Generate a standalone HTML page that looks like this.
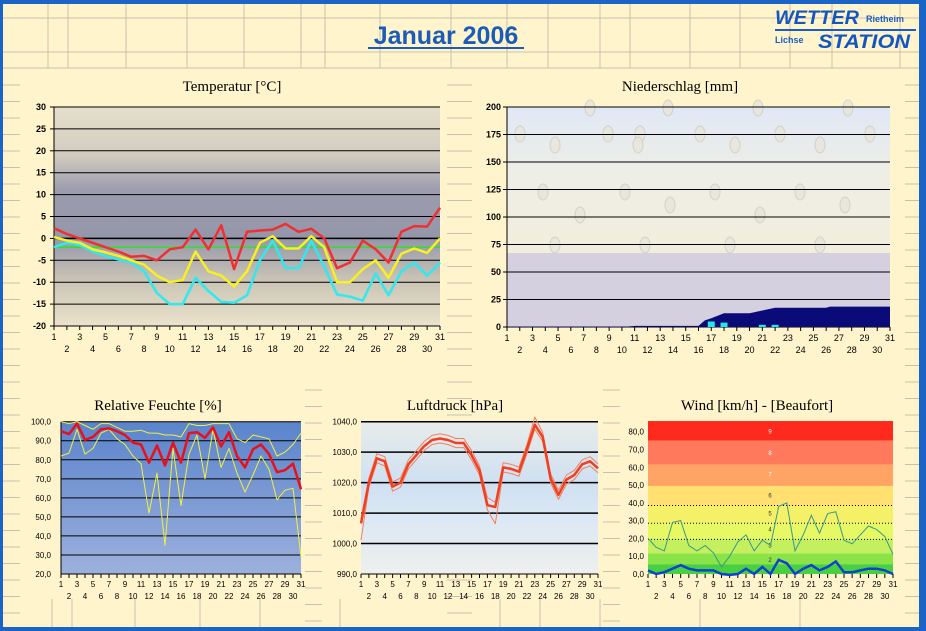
<!DOCTYPE html>
<html><head><meta charset="utf-8"><style>
body{margin:0;width:926px;height:631px;overflow:hidden;background:#fff4cc}
svg{display:block}
text{font-family:"Liberation Sans",sans-serif}
.t{font-family:"Liberation Serif",serif;font-size:15px;text-anchor:middle}
.ax{font-size:9px;font-weight:bold;text-anchor:end}
.xl{font-size:9px;text-anchor:middle}
.sx{font-size:8px;text-anchor:middle;font-family:"Liberation Sans Narrow","Liberation Sans",sans-serif}
.sy{font-size:8px;text-anchor:end;font-family:"Liberation Sans Narrow","Liberation Sans",sans-serif}
</style></head><body>
<svg id="s" width="926" height="631" xmlns="http://www.w3.org/2000/svg">
<defs>
<linearGradient id="gt" x1="0" y1="0" x2="0" y2="1">
<stop offset="0" stop-color="#e6dfcc"/><stop offset="0.22" stop-color="#d2ccc0"/><stop offset="0.38" stop-color="#9c9cae"/><stop offset="0.6" stop-color="#9496aa"/><stop offset="0.78" stop-color="#c8c2b4"/><stop offset="1" stop-color="#ebe3cc"/></linearGradient>
<linearGradient id="gp" x1="0" y1="0" x2="0" y2="1">
<stop offset="0" stop-color="#e0e8f6"/><stop offset="0.3" stop-color="#eeeee6"/><stop offset="0.67" stop-color="#f2eedc"/></linearGradient>
<linearGradient id="gh" x1="0" y1="0" x2="0" y2="1">
<stop offset="0" stop-color="#5a84cc"/><stop offset="0.5" stop-color="#7c9ad4"/><stop offset="1" stop-color="#9cb0dc"/></linearGradient>
<linearGradient id="gl" x1="0" y1="0" x2="0" y2="1">
<stop offset="0" stop-color="#e8ecea"/><stop offset="0.4" stop-color="#cfe0f2"/><stop offset="0.65" stop-color="#dce8f4"/><stop offset="1" stop-color="#eef0ec"/></linearGradient>
</defs>
<g id="grid" stroke="#c8c0b0" stroke-width="1"></g>
<rect x="0" y="0" width="926" height="4" fill="#1a64c8"/>
<rect x="0" y="0" width="3" height="631" fill="#1a64c8"/>
<rect x="919" y="0" width="7" height="631" fill="#1a64c8"/>
<rect x="0" y="627" width="926" height="4" fill="#1a64c8"/>
<text x="446" y="44" font-size="25" font-weight="bold" fill="#1a5cb8" text-anchor="middle">Januar 2006</text>
<line x1="368" y1="48" x2="524" y2="48" stroke="#1a5cb8" stroke-width="2"/>
<text x="775" y="24" font-size="19" font-weight="bold" font-style="italic" fill="#1456c0" textLength="84" lengthAdjust="spacingAndGlyphs">WETTER</text>
<text x="866" y="22" font-size="9" font-weight="bold" font-family="Liberation Serif" fill="#1a5cc8">Rietheim</text>
<line x1="775" y1="30" x2="916" y2="30" stroke="#1a5cc8" stroke-width="2"/>
<text x="775" y="43" font-size="9" font-weight="bold" font-family="Liberation Serif" fill="#1a5cc8">Lichse</text>
<text x="818" y="48" font-size="19" font-weight="bold" font-style="italic" fill="#1456c0" textLength="92" lengthAdjust="spacingAndGlyphs">STATION</text>
<g id="c"></g>
</svg>
<script>
var NS="http://www.w3.org/2000/svg",c=document.getElementById('c'),g=document.getElementById('grid');
function el(t,a,p,txt){if(p!==undefined&&p!==null&&typeof p!=='object'){txt=p;p=null;}var e=document.createElementNS(NS,t);for(var k in a)e.setAttribute(k,a[k]);if(txt!==undefined)e.textContent=txt;(p||c).appendChild(e);return e;}
[18,52,68].forEach(function(y){el('line',{x1:3,y1:y,x2:919,y2:y},g)});
[48,68,126,187,244,301,325,380,451,507,548,600,630,690,740,790,832,900].forEach(function(x){el('line',{x1:x,y1:4,x2:x,y2:68},g)});
for(var y=85;y<627;y+=16.5){el('line',{x1:3,y1:y,x2:20,y2:y},g);el('line',{x1:447,y1:y,x2:472,y2:y},g);el('line',{x1:905,y1:y,x2:919,y2:y},g);}
for(var y=390;y<627;y+=16.5){el('line',{x1:305,y1:y,x2:322,y2:y},g);el('line',{x1:603,y1:y,x2:620,y2:y},g);}
[52,72,135,200,260,340,500,540,600,700,800].forEach(function(x){el('line',{x1:x,y1:599,x2:x,y2:627},g)});
function line(x0,x1,y0,y1,v0,v1,data,col,w){var pts=data.map(function(v,i){return (x0+i*(x1-x0)/(data.length-1)).toFixed(1)+','+(y0+(v0-v)*(y1-y0)/(v0-v1)).toFixed(1)}).join(' ');el('polyline',{points:pts,fill:'none',stroke:col,'stroke-width':w,'stroke-linejoin':'round'});}
function xlabels(x0,x1,yb,cls,dy){for(var d=1;d<=31;d++){var x=x0+(d-1)*(x1-x0)/30;el('line',{x1:x,y1:yb,x2:x,y2:yb+4,stroke:'#000'});el('text',{x:x,y:yb+(d%2?14:26)+(dy||0),'class':cls},String(d));}}
var X0=54,X1=440,Y0=107,Y1=326;
el('text',{x:232,y:91,'class':'t'},'Temperatur [°C]');
el('rect',{x:X0,y:Y0,width:X1-X0,height:Y1-Y0,fill:'url(#gt)'});
for(var v=30;v>=-20;v-=5){var y=Y0+(30-v)*(Y1-Y0)/50;el('line',{x1:X0,y1:y,x2:X1,y2:y,stroke:'#000','stroke-width':v==0?1.5:1});el('line',{x1:X0-4,y1:y,x2:X0,y2:y,stroke:'#000'});el('text',{x:X0-8,y:y+3,'class':'ax'},String(v));}
el('line',{x1:X0,y1:Y0,x2:X0,y2:Y1,stroke:'#000'});
xlabels(X0,X1,Y1,'xl');
line(X0,X1,Y0,Y1,30,-20,Array(31).fill(-2),'#30e030',1.5);
line(X0,X1,Y0,Y1,30,-20,[-2,-1,-1.5,-3,-4,-4.8,-5.5,-7.5,-12.5,-15,-15,-9,-12,-14.5,-14.7,-13,-5,-0.5,-6.8,-6.8,-0.5,-6.5,-12.8,-13.3,-14.2,-8,-13,-7.5,-5.5,-8.5,-5.5],'#30e8f0',2.5);
line(X0,X1,Y0,Y1,30,-20,[0.3,-0.5,-1,-2.5,-3.2,-4,-5,-6,-8.5,-10,-9.5,-3,-7.5,-8.5,-11,-7.5,-1,0.5,-2.3,-2.3,0.5,-2,-10,-10,-7,-5,-9,-3.5,-2.3,-3.3,0],'#f8f020',2.5);
line(X0,X1,Y0,Y1,30,-20,[2.3,1,0,-1,-2,-3,-4.2,-4,-5,-2.5,-2,2,-2.5,3,-7,1.5,1.8,2,3.3,1.5,2.2,0,-6.8,-5.5,-0.5,-2.5,-5.5,1.5,2.8,2.7,7],'#f03030',2.5);
X0=507;X1=890;Y0=107;Y1=327;
el('text',{x:680,y:91,'class':'t'},'Niederschlag [mm]');
el('rect',{x:X0,y:Y0,width:X1-X0,height:Y1-Y0,fill:'url(#gp)'});
el('rect',{x:X0,y:253,width:X1-X0,height:Y1-253,fill:'#d4d0e0'});
var drops=[[520,134],[590,108],[608,134],[640,134],[668,108],[700,134],[758,108],[780,134],[848,108],[870,134],[555,145],[638,145],[735,145],[820,145],[543,192],[580,215],[625,192],[670,205],[715,192],[760,215],[800,192],[845,205],[555,245],[645,245],[730,245],[820,245]];
drops.forEach(function(d){el('ellipse',{cx:d[0],cy:d[1],rx:5,ry:8,fill:'#e8e6dc',stroke:'#cfcbbd','stroke-width':1,opacity:0.8})});
for(var v=200;v>=0;v-=25){var y=Y0+(200-v)*(Y1-Y0)/200;el('line',{x1:X0,y1:y,x2:X1,y2:y,stroke:'#000'});el('line',{x1:X0-4,y1:y,x2:X0,y2:y,stroke:'#000'});el('text',{x:X0-6,y:y+3,'class':'ax'},String(v));}
el('line',{x1:X0,y1:Y0,x2:X0,y2:Y1,stroke:'#000'});
var dx=(X1-X0)/30;function px(d){return X0+(d-1)*dx}function py(v){return Y1-v*1.1}
el('polygon',{points:[px(1),py(0),px(1),py(0.5),px(10.5),py(0.5),px(11),py(1),px(16),py(1),px(16.5),py(6),px(17),py(8),px(18),py(12.5),px(20),py(12.5),px(21),py(15),px(22),py(17.5),px(26),py(17.5),px(26.3),py(18.5),px(31),py(18.5),px(31),py(0)].join(' '),fill:'#0a0a78'});
[[17,5],[18,4],[21,2],[22,2]].forEach(function(b){el('rect',{x:px(b[0])-3.5,y:py(b[1]),width:7,height:b[1]*1.1,fill:'#20e8f0'})});
xlabels(X0,X1,Y1,'xl');
X0=61;X1=301;Y0=421.7;Y1=574;
el('text',{x:158,y:410,'class':'t','font-size':'14'},'Relative Feuchte [%]');
el('rect',{x:X0,y:Y0,width:X1-X0,height:Y1-Y0,fill:'url(#gh)'});
for(var v=100;v>=20;v-=10){var y=Y0+(100-v)*(Y1-Y0)/80;el('line',{x1:X0,y1:y,x2:X1,y2:y,stroke:'#000'});el('text',{x:X0-10,y:y+3,'class':'sy'},v+',0');}
el('line',{x1:X0,y1:Y0,x2:X0,y2:Y1,stroke:'#000'});
xlabels(X0,X1,Y1,'sx',-1);
line(X0,X1,Y0,Y1,100,20,[100,99,100,98,96,99,99,97,95,95,95.5,94,94,93,93,92,99,98,98,99,99,99,91,89,93,92,91,82,84,88,94],'#f0f040',1);
line(X0,X1,Y0,Y1,100,20,[82,83.5,96,83,86,94,96,91,88,82,78,52,73,35,86,56,83,93,70,96,76,86,73,63,72,82,75,59,64,65,29],'#f0f040',1);
line(X0,X1,Y0,Y1,100,20,[95,93.5,99,90.5,92,96,96.5,95,93,89,88,78.5,87.5,77,89,78.5,94,94.5,91.5,97,87,94.5,82,76,85.5,88,83,73.5,74.5,78,64.5],'#e8101a',2.5);
X0=361;X1=598;
el('text',{x:455,y:410,'class':'t','font-size':'14'},'Luftdruck [hPa]');
el('rect',{x:X0,y:Y0,width:X1-X0,height:Y1-Y0,fill:'url(#gl)'});
for(var v=1040;v>=990;v-=10){var y=Y0+(1040-v)*(Y1-Y0)/50;el('line',{x1:X0,y1:y,x2:X1,y2:y,stroke:'#000','stroke-width':v==990?1:1.5});el('text',{x:X0-4,y:y+3,'class':'sy'},v+',0');}
xlabels(X0,X1,Y1,'sx',-1);
var pr=[1006.6,1020,1028,1027,1018.7,1020,1026,1029,1032,1034,1034.5,1034,1033,1033,1029,1024,1012.6,1012,1025,1024.5,1023.6,1031,1039,1035,1021.4,1016,1021,1022.5,1026,1027,1024.7];
line(X0,X1,Y0,Y1,1040,990,pr.map(function(v,i){return v+1.5+(i==16||i==22?1:0)}),'#f08060',1);
line(X0,X1,Y0,Y1,1040,990,pr.map(function(v,i){return v-1.5-(i==17||i==0?4:0)}),'#f08060',1);
line(X0,X1,Y0,Y1,1040,990,pr,'#f04020',2.5);
X0=648;X1=893;Y0=421;Y1=574;
el('text',{x:757,y:410,'class':'t','font-size':'14'},'Wind [km/h] - [Beaufort]');
function wy(v){return Y1-v*(Y1-431.7)/80}
var bands=[[86,75,'#ff2a1e'],[75,61.5,'#ff7a5c'],[61.5,49.5,'#ffa464'],[49.5,38.5,'#ffe070'],[38.5,28.5,'#f4f068'],[28.5,19.5,'#e6f864'],[19.5,11.5,'#c4f060'],[11.5,5.5,'#8ae448'],[5.5,0,'#48d040']];
bands.forEach(function(b){el('rect',{x:X0,y:wy(b[0]),width:X1-X0,height:wy(b[1])-wy(b[0]),fill:b[2]})});
[[9,80],[8,68],[7,56],[6,44],[5,34],[4,25],[3,16],[2,8]].forEach(function(b){el('text',{x:770,y:wy(b[1])+2,'font-size':'6','fill':b[0]>6?'#fff':'#333','text-anchor':'middle'},String(b[0]))});
[38.5,28.5,19.5].forEach(function(v){el('line',{x1:X0,y1:wy(v),x2:X1,y2:wy(v),stroke:'#000','stroke-dasharray':'1,2'})});
for(var v=80;v>=0;v-=10){el('text',{x:X0-4,y:wy(v)+3,'class':'sy'},v.toFixed(1).replace('.',','));}
xlabels(X0,X1,Y1,'sx',-1);
function wl(d,col,w){var pts=d.map(function(v,i){return (X0+i*(X1-X0)/30).toFixed(1)+','+wy(v).toFixed(1)}).join(' ');el('polyline',{points:pts,fill:'none',stroke:col,'stroke-width':w});}
wl([20,15,13,29,30,16,13,16,12,4,10,18,22,13,19,16,38,40,13,22,33,23,34,35,19,17,22,27,25,21,11],'#3a9a8a',1);
wl([2,0,1,3,5,3,2,2,2,0,-0.5,0,3,0,4,0,8,6,0,3,5,2,4,7,1,1,2,3,3,2,0],'#1040d0',2.5);
</script>
</body></html>
